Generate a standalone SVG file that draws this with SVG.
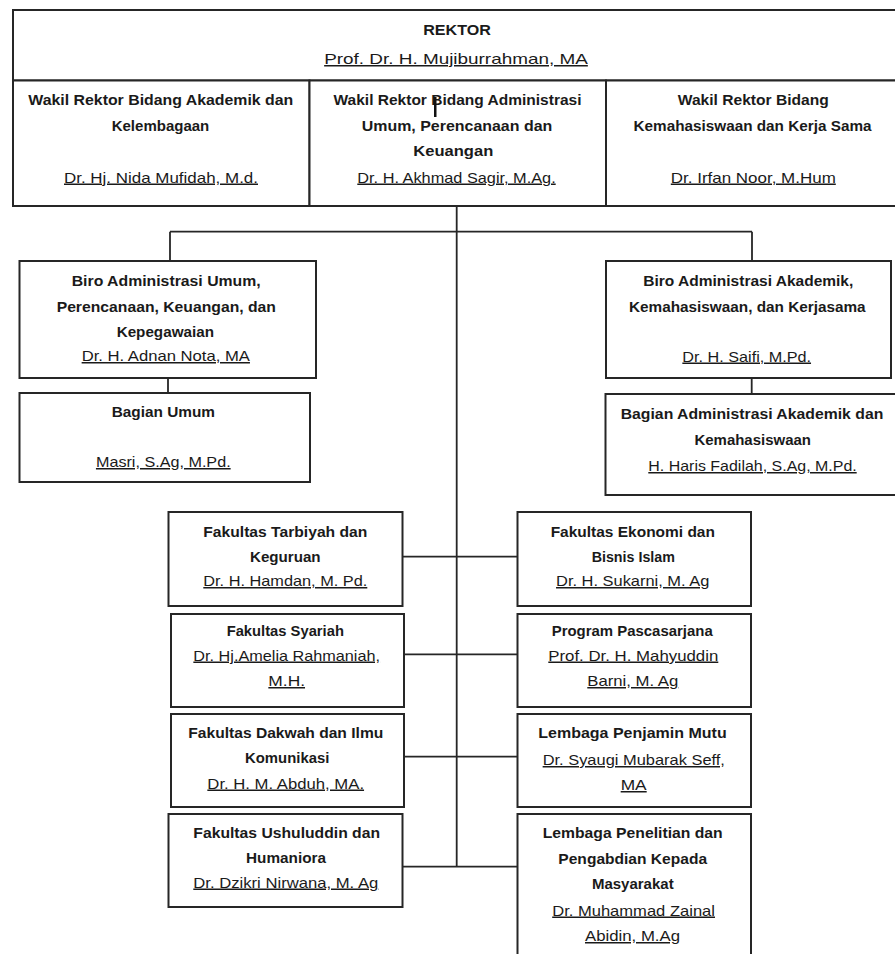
<svg xmlns="http://www.w3.org/2000/svg" width="895" height="954" viewBox="0 0 895 954">
<style>
  .box { fill: #fff; stroke: #262626; stroke-width: 2; }
  .conn { fill: none; stroke: #262626; stroke-width: 1.8; }
  text { font-family: "Liberation Sans", Arial, sans-serif; font-size: 15px; fill: #1a1a1a; text-anchor: middle; }
  .t { font-weight: bold; }
  .n { text-decoration: underline; }
</style>
<rect x="0" y="0" width="895" height="954" fill="#fff"/>

<g id="connectors">
  <path class="conn" d="M456.7 206 V866.7"/>
  <path class="conn" d="M170 231.7 H752 M170 231.7 V261 M752 231.7 V261"/>
  <path class="conn" d="M168 378 V393 M751.7 378 V394"/>
  <path class="conn" d="M402.5 556.7 H517.5 M404 654.3 H517.5 M404 756.7 H517.5 M402.5 866.7 H517.5"/>
</g>

<g id="rektor">
  <rect class="box" x="13" y="10" width="887" height="70.5"/>
  <text class="t" x="457" y="35" textLength="67.7" lengthAdjust="spacingAndGlyphs">REKTOR</text>
  <text class="n" x="456" y="64" textLength="263.7" lengthAdjust="spacingAndGlyphs">Prof. Dr. H. Mujiburrahman,  MA</text>
</g>

<g id="wr1">
  <rect class="box" x="13" y="80.5" width="296.5" height="125.5"/>
  <text class="t" x="160.8" y="105" textLength="265" lengthAdjust="spacingAndGlyphs">Wakil Rektor Bidang Akademik dan</text>
  <text class="t" x="160.5" y="130.5" textLength="97.6" lengthAdjust="spacingAndGlyphs">Kelembagaan</text>
  <text class="n" x="161" y="182.5" textLength="194" lengthAdjust="spacingAndGlyphs">Dr. Hj. Nida Mufidah, M.d.</text>
</g>

<g id="wr2">
  <rect class="box" x="309.5" y="80.5" width="296.5" height="125.5"/>
  <text class="t" x="457.5" y="105" textLength="248" lengthAdjust="spacingAndGlyphs">Wakil Rektor Bidang Administrasi</text>
  <rect x="434" y="97" width="2.5" height="20" fill="#111"/>
  <text class="t" x="457" y="130.5" textLength="190.6" lengthAdjust="spacingAndGlyphs">Umum, Perencanaan dan</text>
  <text class="t" x="453.3" y="155.5" textLength="80" lengthAdjust="spacingAndGlyphs">Keuangan</text>
  <text class="n" x="456.5" y="182.5" textLength="198.4" lengthAdjust="spacingAndGlyphs">Dr. H. Akhmad Sagir, M.Ag.</text>
</g>

<g id="wr3">
  <rect class="box" x="606" y="80.5" width="294" height="125.5"/>
  <text class="t" x="753.3" y="105" textLength="151" lengthAdjust="spacingAndGlyphs">Wakil Rektor Bidang</text>
  <text class="t" x="752.5" y="130.5" textLength="238" lengthAdjust="spacingAndGlyphs">Kemahasiswaan dan Kerja Sama</text>
  <text class="n" x="753.3" y="182.5" textLength="165" lengthAdjust="spacingAndGlyphs">Dr. Irfan Noor, M.Hum</text>
</g>

<g id="biro-umum">
  <rect class="box" x="19.5" y="261" width="296.5" height="117"/>
  <text class="t" x="166.2" y="285.5" textLength="189" lengthAdjust="spacingAndGlyphs">Biro Administrasi  Umum,</text>
  <text class="t" x="166.3" y="311.5" textLength="219.3" lengthAdjust="spacingAndGlyphs">Perencanaan, Keuangan, dan</text>
  <text class="t" x="165.3" y="336.5" textLength="97.3" lengthAdjust="spacingAndGlyphs">Kepegawaian</text>
  <text class="n" x="165.8" y="361" textLength="168.3" lengthAdjust="spacingAndGlyphs">Dr. H. Adnan Nota, MA</text>
</g>

<g id="bagian-umum">
  <rect class="box" x="19.5" y="393" width="290.5" height="89"/>
  <text class="t" x="163.3" y="417" textLength="103.3" lengthAdjust="spacingAndGlyphs">Bagian  Umum</text>
  <text class="n" x="163.3" y="467" textLength="134.7" lengthAdjust="spacingAndGlyphs">Masri, S.Ag,  M.Pd.</text>
</g>

<g id="biro-akademik">
  <rect class="box" x="606" y="261" width="285" height="117"/>
  <text class="t" x="748.3" y="286" textLength="210" lengthAdjust="spacingAndGlyphs">Biro Administrasi  Akademik,</text>
  <text class="t" x="747.3" y="312" textLength="236.7" lengthAdjust="spacingAndGlyphs">Kemahasiswaan,  dan Kerjasama</text>
  <text class="n" x="746.7" y="361.5" textLength="128.7" lengthAdjust="spacingAndGlyphs">Dr. H. Saifi, M.Pd.</text>
</g>

<g id="bagian-akademik">
  <rect class="box" x="605.5" y="394" width="300" height="101"/>
  <text class="t" x="752" y="418.5" textLength="262.6" lengthAdjust="spacingAndGlyphs">Bagian  Administrasi  Akademik  dan</text>
  <text class="t" x="752.7" y="445" textLength="116.5" lengthAdjust="spacingAndGlyphs">Kemahasiswaan</text>
  <text class="n" x="752.5" y="471" textLength="208.4" lengthAdjust="spacingAndGlyphs">H. Haris Fadilah, S.Ag,  M.Pd.</text>
</g>

<g id="fak-tarbiyah">
  <rect class="box" x="168.5" y="512" width="234" height="94"/>
  <text class="t" x="285.3" y="536.5" textLength="164" lengthAdjust="spacingAndGlyphs">Fakultas Tarbiyah  dan</text>
  <text class="t" x="285.3" y="561.5" textLength="70.7" lengthAdjust="spacingAndGlyphs">Keguruan</text>
  <text class="n" x="285.3" y="586" textLength="164" lengthAdjust="spacingAndGlyphs">Dr. H. Hamdan, M. Pd.</text>
</g>

<g id="fak-syariah">
  <rect class="box" x="171" y="614" width="233" height="93"/>
  <text class="t" x="285.3" y="635.5" textLength="117.3" lengthAdjust="spacingAndGlyphs">Fakultas  Syariah</text>
  <text class="n" x="286.7" y="660.5" textLength="186.7" lengthAdjust="spacingAndGlyphs">Dr. Hj.Amelia  Rahmaniah,</text>
  <text class="n" x="286.7" y="686" textLength="36.7" lengthAdjust="spacingAndGlyphs">M.H.</text>
</g>

<g id="fak-dakwah">
  <rect class="box" x="171" y="714" width="233" height="93"/>
  <text class="t" x="285.8" y="737.5" textLength="195" lengthAdjust="spacingAndGlyphs">Fakultas  Dakwah  dan Ilmu</text>
  <text class="t" x="287.2" y="763" textLength="84.3" lengthAdjust="spacingAndGlyphs">Komunikasi</text>
  <text class="n" x="285.7" y="788.5" textLength="156.7" lengthAdjust="spacingAndGlyphs">Dr. H. M. Abduh, MA.</text>
</g>

<g id="fak-ushuluddin">
  <rect class="box" x="168.5" y="814" width="234" height="93"/>
  <text class="t" x="286.7" y="837.5" textLength="186.7" lengthAdjust="spacingAndGlyphs">Fakultas  Ushuluddin dan</text>
  <text class="t" x="286" y="863" textLength="80" lengthAdjust="spacingAndGlyphs">Humaniora</text>
  <text class="n" x="285.8" y="887.5" textLength="185" lengthAdjust="spacingAndGlyphs">Dr. Dzikri Nirwana,  M. Ag</text>
</g>

<g id="fak-ekonomi">
  <rect class="box" x="517.5" y="512" width="233.5" height="94"/>
  <text class="t" x="632.8" y="536.5" textLength="164.3" lengthAdjust="spacingAndGlyphs">Fakultas  Ekonomi  dan</text>
  <text class="t" x="633.3" y="561.5" textLength="83.3" lengthAdjust="spacingAndGlyphs">Bisnis Islam</text>
  <text class="n" x="632.7" y="586" textLength="153.3" lengthAdjust="spacingAndGlyphs">Dr. H. Sukarni, M. Ag</text>
</g>

<g id="pascasarjana">
  <rect class="box" x="517.5" y="614" width="233.5" height="93"/>
  <text class="t" x="632.2" y="635.5" textLength="161" lengthAdjust="spacingAndGlyphs">Program  Pascasarjana</text>
  <text class="n" x="633.3" y="660.5" textLength="170" lengthAdjust="spacingAndGlyphs">Prof. Dr. H. Mahyuddin</text>
  <text class="n" x="632.8" y="686" textLength="91" lengthAdjust="spacingAndGlyphs">Barni, M. Ag</text>
</g>

<g id="lpm">
  <rect class="box" x="517.5" y="714" width="233.5" height="93"/>
  <text class="t" x="632.5" y="737.5" textLength="188.4" lengthAdjust="spacingAndGlyphs">Lembaga  Penjamin Mutu</text>
  <text class="n" x="633.8" y="765" textLength="182.3" lengthAdjust="spacingAndGlyphs">Dr. Syaugi  Mubarak Seff,</text>
  <text class="n" x="633.7" y="790" textLength="26" lengthAdjust="spacingAndGlyphs">MA</text>
</g>

<g id="lp2m">
  <rect class="box" x="517.5" y="814" width="233.5" height="160"/>
  <text class="t" x="632.7" y="837.5" textLength="180" lengthAdjust="spacingAndGlyphs">Lembaga  Penelitian dan</text>
  <text class="t" x="632.7" y="864" textLength="148.7" lengthAdjust="spacingAndGlyphs">Pengabdian  Kepada</text>
  <text class="t" x="632.8" y="888.5" textLength="81.7" lengthAdjust="spacingAndGlyphs">Masyarakat</text>
  <text class="n" x="633.6" y="915.5" textLength="162.8" lengthAdjust="spacingAndGlyphs">Dr. Muhammad  Zainal</text>
  <text class="n" x="632.5" y="941" textLength="95" lengthAdjust="spacingAndGlyphs">Abidin, M.Ag</text>
</g>
</svg>
